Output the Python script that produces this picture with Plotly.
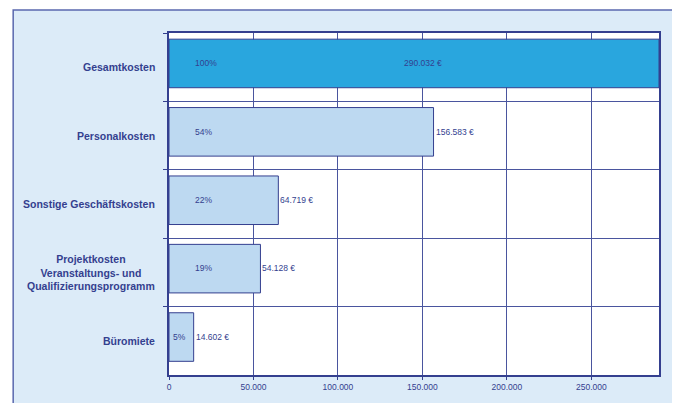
import plotly.graph_objects as go

categories = ["Gesamtkosten", "Personalkosten", "Sonstige Geschäftskosten",
              "Projektkosten<br>Veranstaltungs- und<br>Qualifizierungsprogramm", "Büromiete"]
values = [290032, 156583, 64719, 54128, 14602]
percent_labels = ["100%", "54%", "22%", "19%", "5%"]
value_labels = ["290.032 €", "156.583 €", "64.719 €", "54.128 €", "14.602 €"]
x_ticks = [0, 50000, 100000, 150000, 200000, 250000]

DARK = "#343f8f"
GRID = "#4a559e"
PANEL = "#dcebf8"
BAR_MAIN = "#29a6de"
BAR_LIGHT = "#bdd9f1"

colors = [BAR_MAIN] + [BAR_LIGHT] * (len(values) - 1)

fig = go.Figure()
fig.add_trace(go.Bar(
    y=categories, x=values, orientation="h",
    marker=dict(color=colors, line=dict(color=DARK, width=1)),
    width=0.71, offset=-0.41, hoverinfo="skip", showlegend=False,
))

annotations = []
vmax = max(values)
for cat, v, p, lab in zip(categories, values, percent_labels, value_labels):
    annotations.append(dict(x=0, y=cat, xref="x", yref="y", text=p, showarrow=False,
                            xanchor="left", xshift=24 if v > 0.1 * vmax else 2, yshift=4,
                            font=dict(family="Liberation Sans, Arial", size=8.5, color=DARK)))
    if v == vmax:
        annotations.append(dict(x=v / 2, y=cat, xref="x", yref="y", text=lab, showarrow=False,
                                xanchor="center", xshift=9, yshift=4,
                                font=dict(family="Liberation Sans, Arial", size=8.5, color=DARK)))
    else:
        annotations.append(dict(x=v, y=cat, xref="x", yref="y", text=lab, showarrow=False,
                                xanchor="left", xshift=0, yshift=4,
                                font=dict(family="Liberation Sans, Arial", size=8.5, color=DARK)))
    annotations.append(dict(x=0, y=cat, xref="paper", yref="y",
                            text="<b>" + cat.replace("<br>", "</b><br><b>") + "</b>",
                            showarrow=False, xanchor="right", xshift=-12, align="center",
                            font=dict(family="Liberation Sans, Arial", size=10.5, color=DARK)))

shapes = [
    dict(type="rect", xref="paper", yref="paper", x0=-0.318, x1=1.0367, y0=-0.2, y1=1.067,
         fillcolor=PANEL, line=dict(color="#5a68ae", width=1.5), layer="below"),
    dict(type="rect", xref="paper", yref="paper", x0=0, x1=1, y0=0, y1=1,
         fillcolor="white", line=dict(width=0), layer="below"),
]

fig.update_layout(
    width=672, height=395,
    margin=dict(l=161, r=21, t=25, b=28),
    paper_bgcolor="white", plot_bgcolor="rgba(0,0,0,0)",
    separators=",.",
    annotations=annotations, shapes=shapes,
)
fig.update_xaxes(range=[0, vmax], tickvals=x_ticks, tickformat=",d",
                 showgrid=True, gridcolor=GRID, gridwidth=1,
                 showline=True, linecolor=DARK, linewidth=1.5, mirror=True,
                 ticks="outside", ticklen=3, tickcolor=DARK,
                 tickfont=dict(family="Liberation Sans, Arial", size=8.5, color=DARK),
                 zeroline=False, fixedrange=True)
fig.update_yaxes(categoryorder="array", categoryarray=categories, autorange="reversed",
                 tickson="boundaries", showticklabels=False,
                 showgrid=True, gridcolor=GRID, gridwidth=1,
                 showline=True, linecolor=DARK, linewidth=1.5, mirror=True,
                 ticks="outside", ticklen=4, tickcolor=DARK, fixedrange=True)

fig.write_html("out.html")
